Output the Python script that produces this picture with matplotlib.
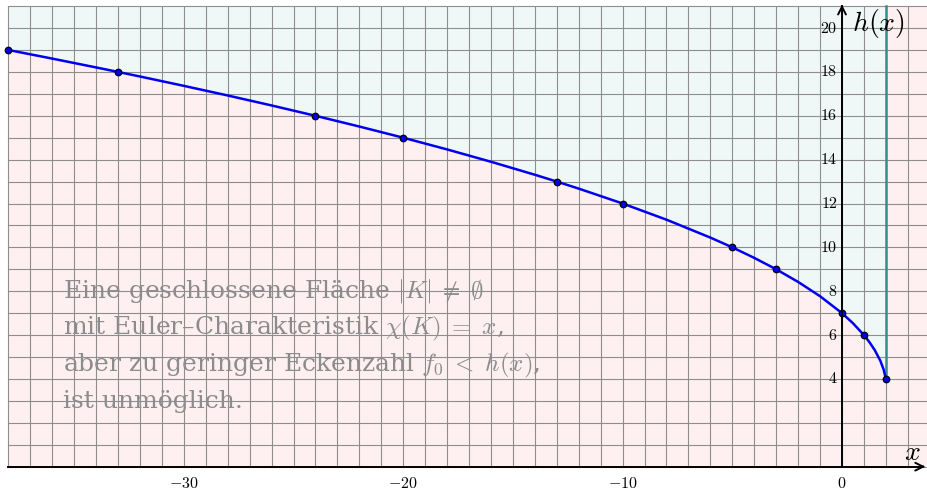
import matplotlib.pyplot as plt

plt.rcParams['mathtext.fontset'] = 'cm'

# Heawood bound h(x), sampled values
curve_x = [-38, -36, -34, -33, -32, -30, -28, -26, -24, -22, -20, -18, -16, -14, -13,
           -12, -10, -8, -6, -5, -4, -3, -2, -1, 0, 0.5, 1, 1.25, 1.5, 1.75, 1.9, 2]
curve_h = [19, 18.608, 18.205, 18, 17.792, 17.365, 16.926, 16.471, 16, 15.510, 15,
           14.466, 13.904, 13.311, 13, 12.679, 12, 11.262, 10.446, 10, 9.521, 9,
           8.424, 7.772, 7, 6.541, 6, 5.679, 5.303, 4.823, 4.422, 4]

# integer points on the curve
pts_x = [-38, -33, -24, -20, -13, -10, -5, -3, 0, 1, 2]
pts_h = [19, 18, 16, 15, 13, 12, 10, 9, 7, 6, 4]

xticks = [-30, -20, -10, 0]
yticks = [4, 6, 8, 10, 12, 14, 16, 18, 20]

x_min, x_max = -38, 4
y_min, y_max = 0, 21

fig = plt.figure(figsize=(9.28, 4.91), dpi=100)
ax = fig.add_axes([0, 0, 1, 1])
ax.set_xlim(-38.38, 3.92)
ax.set_ylim(-1.11, 21.28)
ax.axis('off')

pink = '#fef0f1'
teal = '#eff8f7'

# regions
ax.fill_between(curve_x, y_min, curve_h, color=pink, lw=0, zorder=0)
ax.fill_between(curve_x, curve_h, y_max, color=teal, lw=0, zorder=0)
ax.fill_between([2, x_max], y_min, y_max, color=pink, lw=0, zorder=0)

# statement text (sits under the grid)
lines = ['Eine geschlossene Fläche $|K|\\;\\neq\\;\\emptyset$',
         'mit Euler\u2013Charakteristik $\\chi(K)\\;=\\;x$,',
         'aber zu geringer Eckenzahl $f_0\\;<\\;h(x)$,',
         'ist unmöglich.']
for i, s in enumerate(lines):
    ax.text(-35.5, 7.7 - i * 1.675, s, fontsize=18, family='DejaVu Serif',
            color='#8c8c8c', ha='left', va='baseline', zorder=1)

# grid
for gx in range(x_min, x_max + 1):
    ax.plot([gx, gx], [y_min, y_max], color='#8e8e8e', lw=0.8, zorder=2)
for gy in range(y_min, y_max + 1):
    ax.plot([x_min, x_max], [gy, gy], color='#8e8e8e', lw=0.8, zorder=2)

# boundary at x = 2
ax.plot([2, 2], [4, y_max], color='#3a8c8c', lw=1.8, zorder=3)

# curve and points
ax.plot(curve_x, curve_h, color='#0000ee', lw=1.8, zorder=4)
ax.scatter(pts_x, pts_h, s=22, color='#0000ee', edgecolor='black', lw=0.9, zorder=5)

# axes with arrows
ax.plot([x_min, 3.7], [0, 0], color='black', lw=1.4, zorder=6)
ax.annotate('', xy=(3.92, 0), xytext=(3.5, 0),
            arrowprops=dict(arrowstyle='->', color='black', lw=1.4, mutation_scale=14), zorder=6)
ax.plot([0, 0], [0, 21.0], color='black', lw=1.4, zorder=6)
ax.annotate('', xy=(0, 21.2), xytext=(0, 20.8),
            arrowprops=dict(arrowstyle='->', color='black', lw=1.4, mutation_scale=14), zorder=6)

for t in xticks:
    ax.text(t, -0.78, '$%d$' % t if t == 0 else '$-%d$' % -t, fontsize=11.5,
            ha='center', va='center', zorder=6)
for t in yticks:
    ax.text(-0.2, t, '$%d$' % t, fontsize=11.5, ha='right', va='center', zorder=6)

ax.text(3.2, 0.65, '$x$', fontsize=20, ha='center', va='center', zorder=6)
ax.text(0.45, 20.2, '$h(x)$', fontsize=20, ha='left', va='center', zorder=6)

plt.savefig('out.png', dpi=100)
